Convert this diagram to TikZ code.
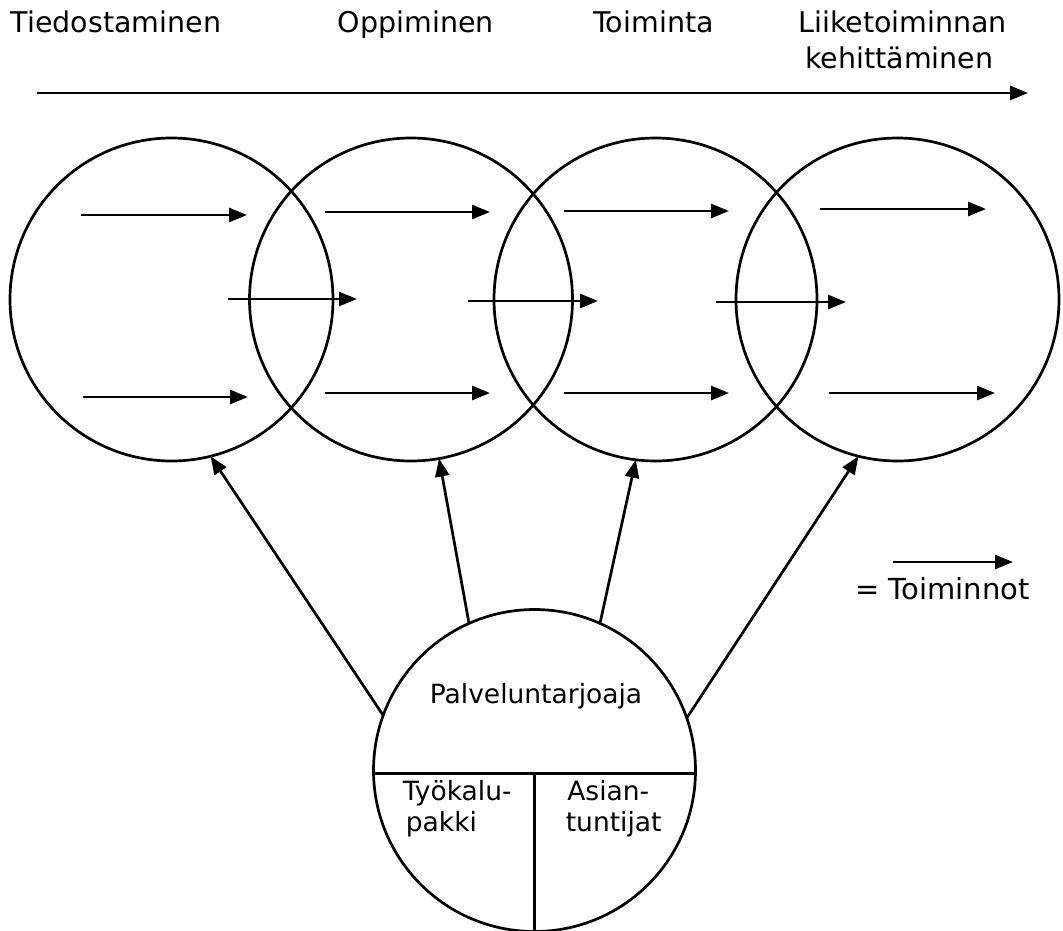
\documentclass[tikz,border=0pt]{standalone}
\usepackage{fontspec}
\setmainfont{DejaVu Sans}
\usetikzlibrary{arrows.meta}

\begin{document}
\begin{tikzpicture}[
    x=1pt, y=-1pt,
    line width=2.7pt,
    tip/.style={-{Triangle[length=18pt,width=14pt]}},
    phase/.style={circle, draw, minimum size=323pt, inner sep=0pt, outer sep=0pt},
    head/.style={anchor=base west, inner sep=0pt, font=\fontsize{28.5pt}{34pt}\selectfont},
    inner/.style={anchor=base west, inner sep=0pt, font=\fontsize{26.5pt}{31pt}\selectfont},
  ]
  % canvas
  \path[fill=white, use as bounding box] (0,0) rectangle (1063,931);

  % phase titles and time axis
  \node[head] (t1) at (9.5,33) {Tiedostaminen};
  \node[head] (t2) at (336.5,33) {Oppiminen};
  \node[head] (t3) at (592,33) {Toiminta};
  \node[head] (t4) at (797,33) {Liiketoiminnan};
  \node[head] (t4b) at (804,69) {kehittäminen};
  \coordinate (axisL) at (37,93);
  \coordinate (axisR) at (1028,93);
  \draw[tip] (axisL) -- (axisR);

  % the four overlapping phases
  \node[phase] (c1) at (171.5,299.5) {};
  \node[phase] (c2) at (411,299.5) {};
  \node[phase] (c3) at (655.5,299.5) {};
  \node[phase] (c4) at (897.5,299.5) {};

  % activities inside the phases
  \draw[tip] (81,215) -- (247,215);
  \draw[tip] (83,397) -- (248,397);
  \draw[tip] (228,299) -- (357,299);

  \draw[tip] (325,212) -- (490,212);
  \draw[tip] (325,393) -- (490,393);
  \draw[tip] (468,301) -- (598,301);

  \draw[tip] (564,211) -- (729,211);
  \draw[tip] (564,393) -- (729,393);
  \draw[tip] (716,302) -- (846,302);

  \draw[tip] (820,209) -- (986,209);
  \draw[tip] (829,393) -- (995,393);

  % service provider
  \node[phase, minimum size=322pt] (bot) at (534.5,770.5) {};
  \draw (bot.-1.25) -- (bot.181.25);
  \draw (bot.south) -- (bot.south |- bot.-1.25);
  \node[inner] (prov) at (428.5,703) {Palveluntarjoaja};
  \node[inner] (tk1) at (401.5,800) {Työkalu-};
  \node[inner] (tk2) at (404.5,831) {pakki};
  \node[inner] (as1) at (566,800) {Asian-};
  \node[inner] (as2) at (564.5,831) {tuntijat};

  % support to each phase
  \draw[tip] (bot.160.7) -- (c1.-76.7);
  \draw[tip] (bot.114.3) -- (c2.-80.4);
  \draw[tip] (bot.66.8) -- (c3.-97.9);
  \draw[tip] (bot.19.2) -- (c4.-104.7);

  % legend
  \coordinate (legL) at (893,562);
  \coordinate (legR) at (1013,562);
  \draw[tip] (legL) -- (legR);
  \node[anchor=base west, inner sep=0pt, font=\fontsize{29pt}{34pt}\selectfont] (leg) at (854,599) {= Toiminnot};
\end{tikzpicture}
\end{document}
